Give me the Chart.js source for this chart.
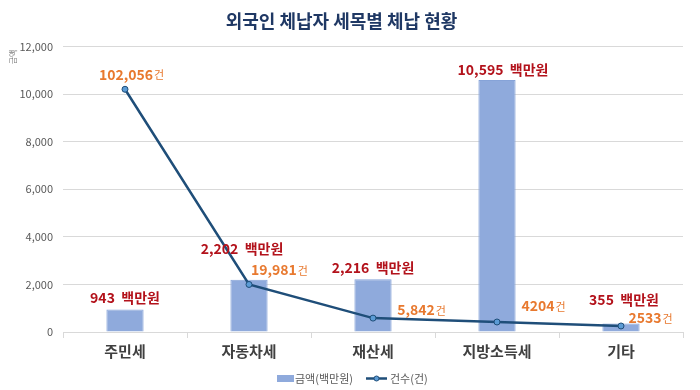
<!DOCTYPE html>
<html><head><meta charset="utf-8">
<script src="https://cdn.jsdelivr.net/npm/chart.js@4.4.1/dist/chart.umd.min.js"></script>
<style>html,body{margin:0;padding:0;background:#fff}#wrap{width:700px;height:390px}</style>
</head><body><div id="wrap"><canvas id="c" width="700" height="390"></canvas></div>
<script>
const categories = ['주민세','자동차세','재산세','지방소득세','기타'];
const amounts = [943, 2202, 2216, 10595, 355];
const counts = [102056, 19981, 5842, 4204, 2533];
const countLabels = ['102,056','19,981','5,842','4204','2533'];
const yTicks = [0, 2000, 4000, 6000, 8000, 10000, 12000];

const FONT = "'Noto Sans CJK KR', 'Noto Sans', sans-serif";
const amtOff = [[0,-12],[-7,-31],[0,-12],[6,-10],[3,-24]];
const cntOff = [[6,-15],[30,-15],[48,-8],[46,-16],[29,-8]];

const labelPlugin = {
  id: 'labels',
  afterDatasetsDraw(chart) {
    const ctx = chart.ctx;
    const bars = chart.getDatasetMeta(0).data;
    const pts = chart.getDatasetMeta(1).data;
    ctx.save();
    ctx.textBaseline = 'middle';
    bars.forEach((b, i) => {
      const num = amounts[i].toLocaleString('en-US');
      const unit = '백만원';
      ctx.font = 'bold 14px ' + FONT;
      const w1 = ctx.measureText(num + '  ').width;
      const w2 = ctx.measureText(unit).width;
      const cx = b.x + amtOff[i][0], cy = b.y + amtOff[i][1];
      let x = cx - (w1 + w2) / 2;
      ctx.fillStyle = '#b3121b';
      ctx.textAlign = 'left';
      ctx.fillText(num + '  ', x, cy);
      ctx.fillText(unit, x + w1, cy);
    });
    pts.forEach((p, i) => {
      const num = countLabels[i];
      ctx.font = 'bold 14px ' + FONT;
      const w1 = ctx.measureText(num).width;
      ctx.font = '11px ' + FONT;
      const w2 = ctx.measureText('건').width;
      const cx = p.x + cntOff[i][0], cy = p.y + cntOff[i][1];
      const x = cx - (w1 + w2) / 2;
      ctx.fillStyle = '#e8792f';
      ctx.textAlign = 'left';
      ctx.font = 'bold 14px ' + FONT;
      ctx.fillText(num, x, cy);
      ctx.font = '11px ' + FONT;
      ctx.fillText('건', x + w1 + 1, cy + 1);
    });
    // y axis title
    ctx.save();
    ctx.translate(13, 57);
    ctx.rotate(-Math.PI / 2);
    ctx.font = '8px ' + FONT;
    ctx.fillStyle = '#7f7f7f';
    ctx.textAlign = 'center';
    ctx.fillText('금액', 0, 0);
    ctx.restore();
    // legend
    ctx.font = '11px ' + FONT;
    ctx.fillStyle = '#8faadc';
    ctx.fillRect(277, 375, 17, 7);
    ctx.fillStyle = '#595959';
    ctx.textAlign = 'left';
    ctx.fillText('금액(백만원)', 295, 379);
    ctx.strokeStyle = '#1f4e79';
    ctx.lineWidth = 2.5;
    ctx.beginPath(); ctx.moveTo(366, 378.5); ctx.lineTo(387, 378.5); ctx.stroke();
    ctx.fillStyle = '#5b9bd5';
    ctx.lineWidth = 1;
    ctx.beginPath(); ctx.arc(376.5, 378.5, 2.5, 0, Math.PI * 2); ctx.fill(); ctx.stroke();
    ctx.fillStyle = '#595959';
    ctx.fillText('건수(건)', 390, 379);
    ctx.restore();
  }
};

new Chart(document.getElementById('c'), {
  data: {
    labels: categories,
    datasets: [
      { type: 'bar', label: '금액(백만원)', data: amounts, yAxisID: 'y',
        backgroundColor: '#8faadc', borderColor: '#86a3d8', borderWidth: 1,
        barPercentage: 0.3, categoryPercentage: 1, order: 2 },
      { type: 'line', label: '건수(건)', data: counts, yAxisID: 'y2',
        borderColor: '#1f4e79', borderWidth: 2.5, pointRadius: 3,
        pointBackgroundColor: '#5b9bd5', pointBorderColor: '#1f4e79', pointBorderWidth: 1,
        tension: 0, order: 1 }
    ]
  },
  options: {
    responsive: false, animation: false,
    layout: { padding: { left: 0, right: 17, top: 0, bottom: 26 } },
    plugins: {
      legend: { display: false },
      tooltip: { enabled: false },
      title: { display: true, text: '외국인 체납자 세목별 체납 현황', color: '#1f3864',
        font: { family: FONT, size: 18, weight: 'bold' }, padding: { top: 10, bottom: 15 } }
    },
    scales: {
      x: {
        offset: true,
        grid: { display: true, offset: true, drawOnChartArea: false, drawTicks: true, tickLength: 6, color: '#d9d9d9' },
        border: { display: true, color: '#d9d9d9' },
        ticks: { color: '#404040', font: { family: FONT, size: 15, weight: 'bold' }, padding: 4 }
      },
      y: {
        min: 0, max: 12000,
        afterFit(axis) { axis.width = 63; },
        afterBuildTicks(axis) { axis.ticks = yTicks.map(v => ({ value: v })); },
        grid: { color: '#d9d9d9', drawTicks: false },
        border: { display: false },
        ticks: { color: '#595959', font: { family: FONT, size: 11 }, padding: 10,
          callback: v => v.toLocaleString('en-US') }
      },
      y2: { display: false, min: 0, max: 120000 }
    }
  },
  plugins: [labelPlugin]
});
</script></body></html>
